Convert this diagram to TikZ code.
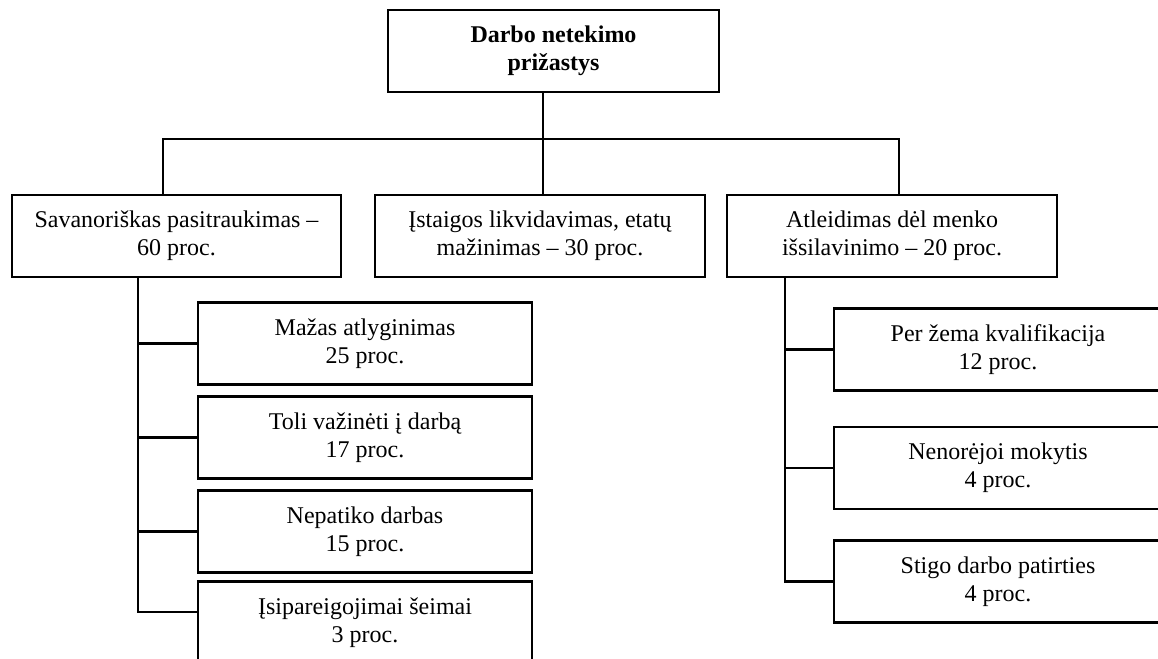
\documentclass[tikz,border=0pt]{standalone}
\usepackage{fontspec}
\setmainfont{Liberation Serif}
\usepackage{tikz}

\tikzset{
  box/.style={draw, line width=1.3pt, align=center, inner sep=0pt,
    minimum height=41pt, font=\fontsize{12}{14}\selectfont},
  wire/.style={line width=1.1pt},
}

\begin{document}
\begin{tikzpicture}[x=0.5pt,y=-0.5pt]
\useasboundingbox (0,0) rectangle (1158,659);
\clip (0,0) rectangle (1158,659);

% main box
\node[box, minimum width=165.5pt, font=\fontsize{12}{14}\selectfont\bfseries] (root) at (553.5,51) {Darbo netekimo\\prižastys};

% three groups of reasons
\node[box, minimum width=164.5pt] (vol) at (176.5,236) {Savanoriškas pasitraukimas –\\60 proc.};
\node[box, minimum width=165pt] (liq) at (540,236) {Įstaigos likvidavimas, etatų\\mažinimas – 30 proc.};
\node[box, minimum width=165pt] (dis) at (892,236) {Atleidimas dėl menko\\išsilavinimo – 20 proc.};

% under the first group
\node[box, minimum width=167pt] (low) at (365,343.5) {Mažas atlyginimas\\25 proc.};
\node[box, minimum width=167pt] (far) at (365,437.5) {Toli važinėti į darbą\\17 proc.};
\node[box, minimum width=167pt] (dislike) at (365,531.5) {Nepatiko darbas\\15 proc.};
\node[box, minimum width=167pt] (family) at (365,622.5) {Įsipareigojimai šeimai\\3 proc.};

% under the third group
\node[box, minimum width=164pt] (qual) at (998,349.5) {Per žema kvalifikacija\\12 proc.};
\node[box, minimum width=164pt] (nolearn) at (998,468) {Nenorėjoi mokytis\\4 proc.};
\node[box, minimum width=164pt] (noexp) at (998,581.5) {Stigo darbo patirties\\4 proc.};

% points the wires run through
\node[coordinate] (trunk) at (543,139) {};
\node[coordinate] (busleft) at (163,139) {};
\node[coordinate] (busright) at (899,139) {};
\node[coordinate] (lbus) at (138,0) {};
\node[coordinate] (rbus) at (785,0) {};
\path (family.north west) ++(0,32) coordinate (famlink);

\draw[wire] (trunk |- root.south) -- (trunk |- liq.north);
\draw[wire] (busleft |- vol.north) -- (busleft) -- (busright) -- (busright |- dis.north);

\draw[wire] (lbus |- vol.south) -- (lbus |- famlink) -- (famlink);
\foreach \n in {low,far,dislike}
  \draw[wire] (lbus |- \n.west) -- (\n.west);

\draw[wire] (rbus |- dis.south) -- (rbus |- noexp.west) -- (noexp.west);
\foreach \n in {qual,nolearn}
  \draw[wire] (rbus |- \n.west) -- (\n.west);
\end{tikzpicture}
\end{document}
